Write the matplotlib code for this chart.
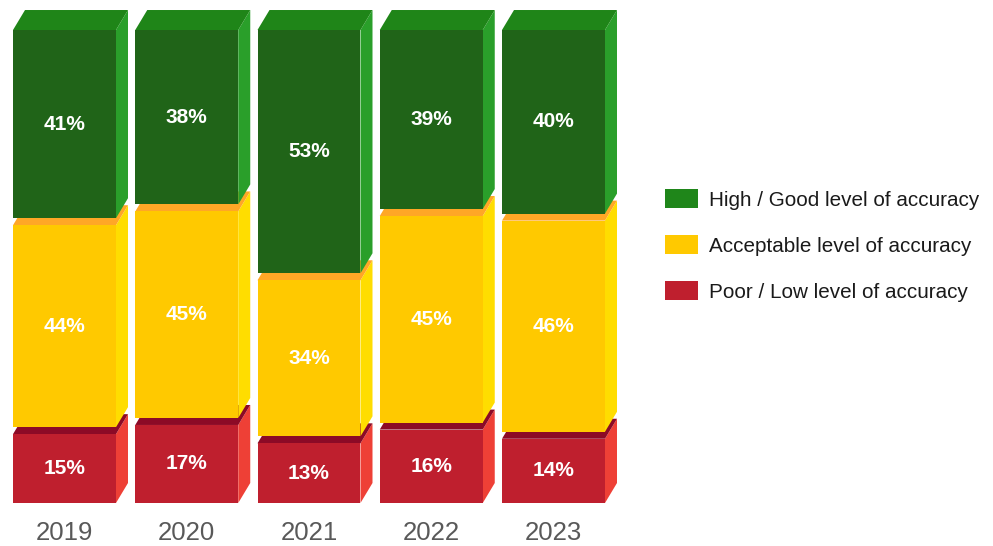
import matplotlib.pyplot as plt
from matplotlib.patches import Polygon, Patch

plt.rcParams['font.family'] = ['Liberation Sans', 'DejaVu Sans']

years = ['2019', '2020', '2021', '2022', '2023']
poor = [15, 17, 13, 16, 14]
acceptable = [44, 45, 34, 45, 46]
high = [41, 38, 53, 39, 40]

series_names = ['High / Good level of accuracy',
                'Acceptable level of accuracy',
                'Poor / Low level of accuracy']

# front, top, side shades for each level (bottom to top)
shades = [
    ('#bf1f2e', '#8c0a26', '#ee4036'),   # poor
    ('#ffc900', '#ffa726', '#ffdd00'),   # acceptable
    ('#206418', '#1f8518', '#2a9f2a'),   # high
]
legend_colors = ['#1f861a', '#ffc900', '#bf1f2e']

fig = plt.figure(figsize=(9.93, 5.46), dpi=100)
ax = fig.add_axes([0, 0.07875, 640 / 993, 0.9079])
ax.set_xlim(-0.5276, 4.7076)
ax.set_ylim(0, 108)
ax.axis('off')

w = 0.8425      # front face width
dx = 0.0982     # depth offset, x
dy = 4.357      # depth offset, y
gap = 1.525     # space between stacked boxes


def box(x0, y0, y1, front, top, side):
    x1 = x0 + w
    ax.add_patch(Polygon([(x1, y0), (x1 + dx, y0 + dy), (x1 + dx, y1 + dy), (x1, y1)],
                         closed=True, facecolor=side, edgecolor='none', clip_on=False))
    ax.add_patch(Polygon([(x0, y1), (x1, y1), (x1 + dx, y1 + dy), (x0 + dx, y1 + dy)],
                         closed=True, facecolor=top, edgecolor='none', clip_on=False))
    ax.add_patch(Polygon([(x0, y0), (x1, y0), (x1, y1), (x0, y1)],
                         closed=True, facecolor=front, edgecolor='none', clip_on=False))


for i, yr in enumerate(years):
    x0 = i - w / 2
    base = 0
    for k, vals in enumerate([poor, acceptable, high]):
        v = vals[i]
        box(x0, base, base + v, *shades[k])
        ax.text(i, base + v / 2, f'{v}%', ha='center', va='center',
                color='white', fontsize=15, fontweight='bold')
        base += v + gap
    ax.text(i, -6.6, yr, ha='center', va='center', fontsize=18.5, color='#595959',
            clip_on=False)

handles = [Patch(facecolor=c, edgecolor='none') for c in legend_colors]
fig.legend(handles, series_names, loc='center left',
           bbox_to_anchor=(665 / 993, (546 - 245.5) / 546),
           frameon=False, fontsize=14.9, labelcolor='#1a1a1a',
           handlelength=1.6, handleheight=0.97, handletextpad=0.55,
           labelspacing=1.25, borderpad=0, borderaxespad=0)

fig.savefig('out.png', dpi=100)
